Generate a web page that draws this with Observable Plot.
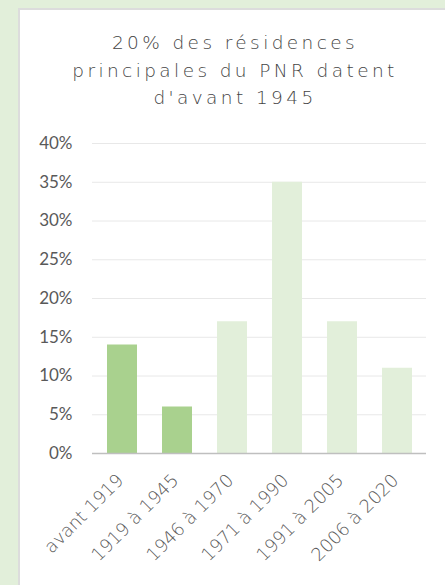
<!DOCTYPE html>
<html>
<head>
<meta charset="utf-8">
<script src="https://cdn.jsdelivr.net/npm/d3@7"></script>
<script src="https://cdn.jsdelivr.net/npm/@observablehq/plot@0.6"></script>
<style>
  html, body { margin: 0; padding: 0; }
  body { width: 445px; height: 585px; background: #e2efda; position: relative; overflow: hidden; }
  #panel { position: absolute; left: 18px; top: 8px; width: 440px; height: 600px; background: #fff; border-left: 2px solid #dcdcdc; border-top: 2px solid #dcdcdc; box-sizing: border-box; }
  #title { position: absolute; left: 0; top: 19px; width: 430px; text-align: center; font-family: "DejaVu Sans", sans-serif; font-weight: 200; font-size: 18.5px; line-height: 27.5px; letter-spacing: 3.4px; color: #444; }
  #chart { position: absolute; left: 0; top: 115px; }
</style>
</head>
<body>
<div id="panel">
  <div id="title">20% des résidences<br>principales du PNR datent<br>d'avant 1945</div>
  <div id="chart"></div>
</div>
<script>
const categories = ["avant 1919", "1919 à 1945", "1946 à 1970", "1971 à 1990", "1991 à 2005", "2006 à 2020"];
const values = [14, 6, 17, 35, 17, 11];
const highlighted = [true, true, false, false, false, false];
const yTicks = [0, 5, 10, 15, 20, 25, 30, 35, 40];

const data = categories.map((c, i) => ({category: c, value: values[i], hi: highlighted[i]}));

const chart = Plot.plot({
  width: 425,
  height: 465,
  marginLeft: 72,
  marginRight: 19,
  marginTop: 18,
  marginBottom: 137,
  style: {fontFamily: "Lato, sans-serif", fontSize: "16px", color: "#595959", background: "transparent"},
  x: {domain: categories, paddingInner: 0.455, paddingOuter: 0.255, axis: null},
  y: {domain: [0, 40], axis: null},
  marks: [
    Plot.gridY(yTicks.filter(t => t > 0), {stroke: "#e8e8e8", strokeOpacity: 1, strokeWidth: 1}),
    Plot.text(yTicks, {y: d => d, frameAnchor: "left", text: d => d + "%", textAnchor: "end", dx: -20, fontSize: 17, fill: "#595959", fontFamily: "Lato, sans-serif", letterSpacing: 0.8}),
    Plot.barY(data, {x: "category", y: "value", fill: d => d.hi ? "#a9d18e" : "#e2efda"}),
    Plot.ruleY([0], {stroke: "#bfbfbf", strokeWidth: 1.5}),
    Plot.text(categories, {x: d => d, y: () => 0, text: d => d, rotate: -45, textAnchor: "end", lineAnchor: "bottom", dx: 2, dy: 28, fontSize: 18, fill: "#595959", fontFamily: "'DejaVu Sans', sans-serif", fontWeight: 200, letterSpacing: 2})
  ]
});
document.getElementById("chart").appendChild(chart);
</script>
</body>
</html>
